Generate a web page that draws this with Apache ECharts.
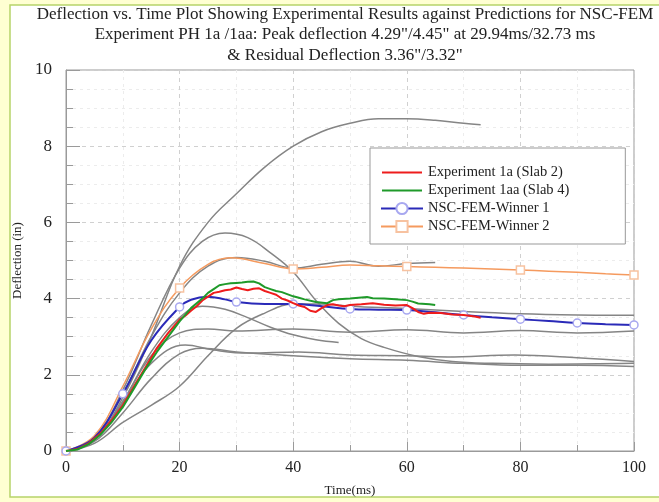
<!DOCTYPE html>
<html><head><meta charset="utf-8">
<script src="https://cdn.jsdelivr.net/npm/echarts@6/dist/echarts.min.js"></script>
<style>html,body{margin:0;padding:0;background:#ffffd2;}#c{width:659px;height:502px;}</style>
</head><body><div id="c"></div>
<script>
// ---- data ----
const titleLines = [
  'Deflection vs. Time Plot Showing Experimental Results against Predictions for NSC-FEM',
  'Experiment PH 1a /1aa: Peak deflection 4.29"/4.45" at 29.94ms/32.73 ms',
  '& Residual Deflection 3.36"/3.32"'
];
const seriesNames = ['Experiment 1a (Slab 2)', 'Experiment 1aa (Slab 4)', 'NSC-FEM-Winner 1', 'NSC-FEM-Winner 2'];
const xTicks = [0, 20, 40, 60, 80, 100];
const yTicks = [0, 2, 4, 6, 8, 10];

const redT = [0,2,4,6,8,10,12,14,16,18,20,21,22,23,24,25,26,27,28,29,30,31,32,33,34,35,36,37,38,39,40,41,42,43,44,45,46,47,48,49,50,52,54,55,56,58,60,61,62,63,64,66,68,70,72,73];
const redD = [0,0.05,0.2,0.45,0.8,1.2,1.7,2.2,2.7,3.1,3.45,3.55,3.68,3.8,3.95,4.05,4.15,4.18,4.22,4.24,4.29,4.25,4.22,4.26,4.27,4.2,4.15,4.1,4.0,3.95,3.88,3.82,3.78,3.68,3.65,3.75,3.83,3.85,3.82,3.8,3.83,3.85,3.88,3.86,3.84,3.82,3.83,3.75,3.65,3.6,3.63,3.62,3.58,3.57,3.53,3.5];
const greenT = [0,2,4,6,8,10,12,14,16,18,20,22,24,25,26,27,28,29,30,31,32,33,34,35,36,37,38,40,41,42,44,46,47,48,50,52,53,54,56,58,60,61,62,64,65];
const greenD = [0,0.04,0.18,0.42,0.75,1.15,1.65,2.15,2.6,3.0,3.4,3.75,4.0,4.15,4.25,4.35,4.38,4.4,4.41,4.42,4.44,4.45,4.4,4.3,4.25,4.2,4.17,4.06,4.02,3.98,3.91,3.88,3.96,3.98,4.0,4.03,4.04,4.01,4.0,3.98,3.96,3.92,3.87,3.85,3.83];
const blueT = [0,5,10,15,20,22,25,28,30,35,40,45,50,55,60,65,70,75,80,85,90,95,100];
const blueD = [0,0.35,1.5,2.9,3.78,3.97,4.05,3.98,3.91,3.86,3.86,3.8,3.73,3.71,3.70,3.64,3.57,3.51,3.46,3.41,3.36,3.33,3.31];
const orangeT = [0,5,10,15,20,25,29,35,40,45,50,55,60,65,70,75,80,85,90,95,100];
const orangeD = [0,0.4,1.7,3.2,4.28,4.9,5.07,4.92,4.78,4.82,4.88,4.86,4.84,4.82,4.8,4.78,4.75,4.72,4.69,4.65,4.62];

const grayA_T = [0,5,10,15,20,25,30,35,40,45,50,55,60,65,70,73];
const grayA_D = [0,0.3,1.4,3.0,4.85,6.0,6.75,7.45,8.0,8.38,8.6,8.72,8.72,8.68,8.6,8.56];
const grayB_T = [0,5,10,15,20,24,28,32,36,40,44,48,52,56,62,68,75,85,100];
const grayB_D = [0,0.35,1.6,3.3,4.8,5.5,5.72,5.6,5.2,4.7,3.95,3.35,2.95,2.72,2.48,2.35,2.3,2.28,2.3];
const grayC_T = [0,5,10,15,20,25,30,35,40,45,50,55,60,65];
const grayC_D = [0,0.35,1.5,3.0,4.15,4.85,5.08,4.98,4.8,4.9,4.98,4.85,4.92,4.95];
const grayD_T = [0,5,10,15,20,24,28,32,36,40,44,48];
const grayD_D = [0,0.3,1.3,2.6,3.5,3.8,3.72,3.5,3.25,3.05,2.92,2.85];
const grayE_T = [0,5,10,15,20,25,30,35,40,45,50,60,70,80,90,100];
const grayE_D = [0,0.2,0.75,1.2,1.7,2.5,3.22,3.62,3.86,3.86,3.8,3.74,3.66,3.6,3.57,3.56];
const grayF_T = [0,5,10,15,20,25,30,40,50,60,70,80,90,100];
const grayF_D = [0,0.3,1.3,2.5,3.1,3.2,3.15,3.2,3.12,3.18,3.1,3.16,3.1,3.15];
const grayG_T = [0,5,10,15,21,26,32,41,50,60,67,79,90,100];
const grayG_D = [0,0.3,1.25,2.3,2.78,2.65,2.57,2.6,2.52,2.5,2.47,2.52,2.45,2.35];
const grayH_T = [0,5,10,15,20,24,30,40,50,60,70,80,90,100];
const grayH_D = [0,0.25,1.0,1.9,2.55,2.7,2.6,2.5,2.42,2.38,2.3,2.25,2.25,2.22];
const grayT = [grayA_T, grayB_T, grayC_T, grayD_T, grayE_T, grayF_T, grayG_T, grayH_T];
const grayD = [grayA_D, grayB_D, grayC_D, grayD_D, grayE_D, grayF_D, grayG_D, grayH_D];

// ---- build ----
const pairs = (t, d) => t.map((v, i) => [v, d[i]]);
const font = 'Liberation Serif';
const chart = echarts.init(document.getElementById('c'));
const series = [];
grayT.forEach((t, k) => series.push({
  name: 'model' + k, type: 'line', smooth: 0.4, symbol: 'none', z: 2,
  lineStyle: { color: '#858585', width: 1.5 }, itemStyle: { color: '#858585' },
  data: pairs(t, grayD[k])
}));
series.push({
  name: seriesNames[3], type: 'line', smooth: 0.4, symbol: 'rect', symbolSize: 8, showAllSymbol: true, z: 3,
  lineStyle: { color: '#f59a5e', width: 1.5 }, itemStyle: { color: '#fff', borderColor: '#f7c2a0', borderWidth: 1.5 },
  data: orangeT.map((t, i) => ({ value: [t, orangeD[i]], symbol: t % 20 === 0 ? 'rect' : 'none' }))
});
series.push({
  name: seriesNames[2], type: 'line', smooth: 0.4, symbol: 'circle', symbolSize: 8, showAllSymbol: true, z: 4,
  lineStyle: { color: '#2a2ab8', width: 2 }, itemStyle: { color: '#fff', borderColor: '#a8a8f0', borderWidth: 1.5 },
  data: blueT.map((t, i) => ({ value: [t, blueD[i]], symbol: t % 10 === 0 ? 'circle' : 'none' }))
});
series.push({
  name: seriesNames[0], type: 'line', symbol: 'none', z: 5,
  lineStyle: { color: '#ee1c1c', width: 2 }, itemStyle: { color: '#ee1c1c' },
  data: pairs(redT, redD)
});
series.push({
  name: seriesNames[1], type: 'line', symbol: 'none', z: 6,
  lineStyle: { color: '#1f9a2a', width: 2 }, itemStyle: { color: '#1f9a2a' },
  data: pairs(greenT, greenD)
});
const lineIcon = 'path://M0,0L0,0M0,6L40,6L40,8L0,8ZM40,14L40,14';
chart.setOption({
  animation: false,
  backgroundColor: '#ffffd2',
  graphic: [{ type: 'rect', z: -10, shape: { x: 10, y: 5, width: 660, height: 492 },
    style: { fill: '#ffffff', stroke: '#b7d46a', lineWidth: 1.5 } },
    { type: 'text', x: 345, y: 4, style: { text: titleLines.join('\n'), font: '17px "Liberation Serif"', lineHeight: 20.5, fill: '#222', textAlign: 'center' } }],
  grid: { left: 66, right: 25, top: 70, bottom: 51, show: true, borderColor: '#9a9a9a', borderWidth: 1 },
  legend: {
    orient: 'vertical', left: 370, top: 148,
    padding: [17, 56, 10, 10], itemGap: 3, itemWidth: 42, itemHeight: 14,
    borderColor: '#999', borderWidth: 1, backgroundColor: '#fff',
    textStyle: { fontFamily: font, fontSize: 14.5, color: '#222' },
    data: [
      { name: seriesNames[0], icon: lineIcon },
      { name: seriesNames[1], icon: lineIcon },
      { name: seriesNames[2] },
      { name: seriesNames[3] }
    ]
  },
  xAxis: {
    type: 'value', min: 0, max: 100, interval: 20,
    name: 'Time(ms)', nameLocation: 'middle', nameGap: 33,
    nameTextStyle: { fontFamily: font, fontSize: 13, color: '#222' },
    axisLine: { lineStyle: { color: '#9a9a9a' } },
    axisTick: { inside: true, length: 9, lineStyle: { color: '#9a9a9a' } },
    minorTick: { show: true, splitNumber: 2, length: 6, lineStyle: { color: '#9a9a9a' } },
    axisLabel: { fontFamily: font, fontSize: 16, color: '#222', margin: 9, formatter: v => xTicks.includes(v) ? String(v) : '' },
    splitLine: { show: true, lineStyle: { color: '#d0d0d0', type: [4, 4] } },
    minorSplitLine: { show: true, lineStyle: { color: '#ececec', type: [3, 4] } }
  },
  yAxis: {
    type: 'value', min: 0, max: 10, interval: 2,
    name: 'Deflection (in)', nameLocation: 'middle', nameGap: 37,
    nameTextStyle: { fontFamily: font, fontSize: 13, color: '#222' },
    axisLine: { show: true, lineStyle: { color: '#9a9a9a' } },
    axisTick: { show: true, inside: true, length: 14, lineStyle: { color: '#9a9a9a' } },
    minorTick: { show: true, splitNumber: 4, length: 7, lineStyle: { color: '#9a9a9a' } },
    axisLabel: { fontFamily: font, fontSize: 17, color: '#222', margin: 14, formatter: v => yTicks.includes(v) ? String(v) : '' },
    splitLine: { show: true, lineStyle: { color: '#d0d0d0', type: [4, 4] } },
    minorSplitLine: { show: true, lineStyle: { color: '#ececec', type: [3, 4] } }
  },
  series: series
});
</script></body></html>
